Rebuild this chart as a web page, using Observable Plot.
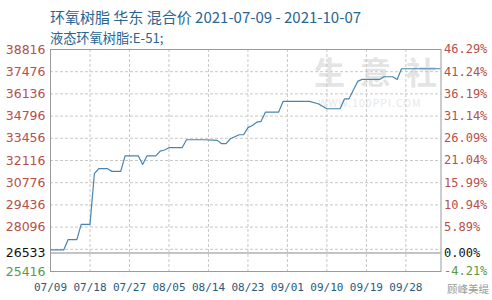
<!DOCTYPE html>
<html>
<head>
<meta charset="utf-8">
<script src="https://cdn.jsdelivr.net/npm/d3@7"></script>
<script src="https://cdn.jsdelivr.net/npm/@observablehq/plot@0.6"></script>
<style>
  body { margin: 0; background: #fff; }
  #wrap { position: relative; width: 492px; height: 300px; overflow: hidden; font-family: "Noto Sans CJK SC", "Noto Sans", sans-serif; }
  .t { position: absolute; white-space: nowrap; color: #2a6592; }
  #title { left: 50px; top: 7px; font-size: 15px; line-height: 20px; }
  #sub { left: 50px; top: 28px; font-size: 13.2px; line-height: 20px; }
  .wm { position: absolute; white-space: nowrap; color: #e4e4e4; line-height: 1; }
  #chart { position: absolute; left: 0; top: 0; }
</style>
</head>
<body>
<div id="wrap">
  <div class="wm" style="left:314px;top:55px;font-size:31px;font-weight:bold;">生</div>
  <div class="wm" style="left:360px;top:55px;font-size:31px;font-weight:bold;">意</div>
  <div class="wm" style="left:406px;top:55px;font-size:31px;font-weight:bold;">社</div>
  <div class="wm" style="left:318px;top:98px;font-size:10.5px;letter-spacing:1px;color:#e8e8e8;">WWW.100PPI.COM</div>
  <div id="chart"></div>
  <div class="t" id="title">环氧树脂 华东 混合价 2021-07-09 - 2021-10-07</div>
  <div class="t" id="sub">液态环氧树脂:E-51;</div>
  <div class="wm" style="left:447px;top:284px;font-size:10.5px;color:#9a9a9a;">顾峰美缇</div>
</div>
<script>
// Price series
const dates = ["2021-07-09","2021-07-12","2021-07-13","2021-07-15","2021-07-16","2021-07-18","2021-07-19","2021-07-20","2021-07-22","2021-07-23","2021-07-25","2021-07-26","2021-07-29","2021-07-30","2021-07-31","2021-08-02","2021-08-03","2021-08-04","2021-08-05","2021-08-08","2021-08-09","2021-08-13","2021-08-16","2021-08-17","2021-08-18","2021-08-19","2021-08-21","2021-08-22","2021-08-23","2021-08-24","2021-08-25","2021-08-26","2021-08-27","2021-08-30","2021-08-31","2021-09-06","2021-09-08","2021-09-10","2021-09-13","2021-09-14","2021-09-15","2021-09-17","2021-09-18","2021-09-22","2021-09-23","2021-09-25","2021-09-26","2021-09-27","2021-10-07"];
const prices = [26720,26720,27336,27336,28260,28260,31320,31620,31620,31460,31460,32400,32400,31880,32400,32400,32680,32750,32890,32890,33370,33370,33330,33130,33130,33430,33670,33670,34100,34230,34430,34480,35040,35040,35680,35680,35540,35240,35240,35830,35830,36890,37010,37010,37170,37170,37010,37655,37655];

// Axis ticks
const baseValue = 26533;
const yTicks = [38816,37476,36136,34796,33456,32116,30776,29436,28096,26533,25416];
const pctLabels = ["46.29%","41.24%","36.19%","31.14%","26.09%","21.04%","15.99%","10.94%","5.89%","0.00%","-4.21%"];
const yGrid = [26756,28096,29436,30776,32116,33456,34796,36136,37476];
const xTickLabels = ["07/09","07/18","07/27","08/05","08/14","08/23","09/01","09/10","09/19","09/28"];
const xTickDates = ["2021-07-09","2021-07-18","2021-07-27","2021-08-05","2021-08-14","2021-08-23","2021-09-01","2021-09-10","2021-09-19","2021-09-28"];

const data = dates.map((d, i) => ({date: new Date(d), price: prices[i]}));
const xt = xTickDates.map((d, i) => ({date: new Date(d), label: xTickLabels[i]}));
const yt = yTicks.map((v, i) => ({v, pct: pctLabels[i]}));

const colorFor = v => v === baseValue ? "#111" : (v < baseValue ? "#5a9a45" : "#b5504a");

const chart = Plot.plot({
  width: 492,
  height: 300,
  marginLeft: 50,
  marginRight: 51.5,
  marginTop: 49,
  marginBottom: 29,
  style: {background: "transparent", overflow: "visible"},
  x: {type: "utc", domain: [new Date("2021-07-09"), new Date("2021-10-06")], axis: null},
  y: {domain: [25416, 38816], axis: null},
  marks: [
    Plot.ruleY(yGrid, {stroke: "#c8c8c8", strokeDasharray: "3,2", strokeWidth: 1}),
    Plot.ruleX(xt.slice(1), {x: "date", stroke: "#c8c8c8", strokeDasharray: "3,2", strokeWidth: 1}),
    Plot.ruleY([baseValue], {stroke: "#8a8a8a", strokeWidth: 1}),
    Plot.line(data, {x: "date", y: "price", stroke: "#4a84ad", strokeWidth: 1.2, clip: true}),
    Plot.frame({stroke: "#9a9a9a"}),
    Plot.text(yt, {y: "v", text: d => String(d.v), frameAnchor: "left", textAnchor: "end", dx: -5,
      fill: d => colorFor(d.v), fontSize: 12.5, fontFamily: "DejaVu Sans, sans-serif"}),
    Plot.text(yt, {y: "v", text: "pct", frameAnchor: "right", textAnchor: "start", dx: 3,
      fill: d => colorFor(d.v), fontSize: 12, fontFamily: "DejaVu Sans Mono, monospace"}),
    Plot.text(xt, {x: "date", text: "label", frameAnchor: "bottom", dy: 16, lineAnchor: "middle",
      fill: "#2a5a7a", fontSize: 11, fontFamily: "DejaVu Sans Mono, monospace"})
  ]
});
document.getElementById("chart").appendChild(chart);
</script>
</body>
</html>
